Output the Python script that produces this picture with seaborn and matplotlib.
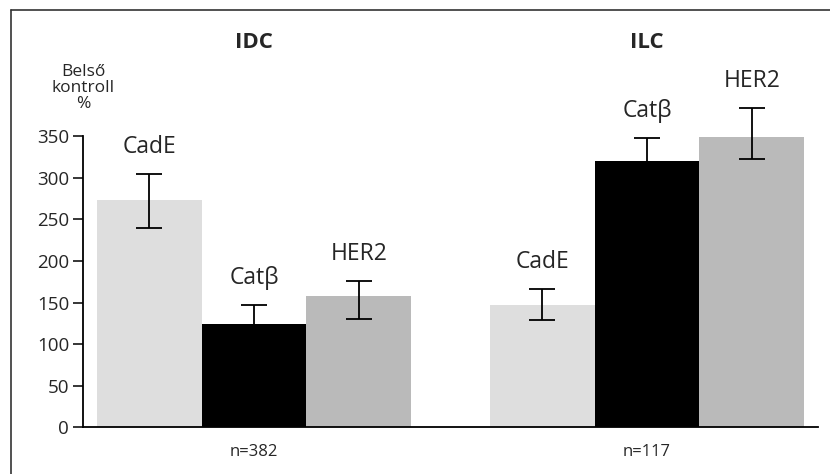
import numpy as np
import pandas as pd
import seaborn as sns
import matplotlib.pyplot as plt
from matplotlib.lines import Line2D

# adatok
groups = ["IDC", "ILC"]
group_n = ["n=382", "n=117"]
markers = ["CadE", "Catβ", "HER2"]
idc_values = [273, 124, 158]
ilc_values = [147, 320, 349]
idc_err_low = [33, 23, 28]
idc_err_high = [32, 23, 18]
ilc_err_low = [18, 28, 27]
ilc_err_high = [19, 28, 35]

colors = ["#dedede", "#000000", "#bababa"]

df = pd.DataFrame({
    "group": np.repeat(groups, len(markers)),
    "marker": markers * len(groups),
    "value": idc_values + ilc_values,
})

sns.set_style("white")
plt.rcParams["font.family"] = ["Open Sans", "DejaVu Sans"]

fig = plt.figure(figsize=(8.3, 4.74), dpi=100)
ax = fig.add_axes([83 / 830, 1 - 427.3 / 474, (818 - 83) / 830, (427.3 - 94.5) / 474])

sns.barplot(data=df, x="group", y="value", hue="marker", palette=colors,
            width=0.8, saturation=1, legend=False, linewidth=0, ax=ax)

ax.set_xlim(-0.435, 1.435)
ax.set_ylim(0, 400)

# hibasavok es feliratok
bw = 0.8 / len(markers)
err_low = [idc_err_low, ilc_err_low]
err_high = [idc_err_high, ilc_err_high]
vals = [idc_values, ilc_values]
for gi in range(len(groups)):
    for mi, m in enumerate(markers):
        x = gi + (mi - 1) * bw
        v = vals[gi][mi]
        ax.errorbar(x, v, yerr=[[err_low[gi][mi]], [err_high[gi][mi]]],
                    fmt="none", ecolor="black", elinewidth=1.3,
                    capsize=9.5, capthick=1.3, zorder=5)
        ax.text(x, v + err_high[gi][mi] + 18, m, ha="center", va="bottom",
                fontsize=16.5, clip_on=False)
    ax.text(gi, 463, groups[gi], ha="center", va="center", fontsize=16,
            fontweight="bold", clip_on=False)

ax.text(-0.435, 408, "Belső\nkontroll\n%", ha="center", va="center",
        fontsize=12.5, linespacing=1.0, clip_on=False)

ax.set_yticks(range(0, 351, 50))
ax.set_xticks(range(len(groups)))
ax.set_xticklabels(group_n, fontsize=12)
ax.tick_params(axis="y", length=7, width=1.3, labelsize=13.5, left=True, pad=3)
ax.tick_params(axis="x", length=0, pad=12)
ax.set_xlabel("")
ax.set_ylabel("")

sns.despine(ax=ax)
ax.spines["left"].set_bounds(0, 350)
for s in ["left", "bottom"]:
    ax.spines[s].set_linewidth(1.3)
    ax.spines[s].set_color("black")

# keret
fig.add_artist(Line2D([11 / 830, 11 / 830], [0, 1 - 10 / 474], color="#333333", lw=1.2))
fig.add_artist(Line2D([11 / 830, 1], [1 - 10 / 474, 1 - 10 / 474], color="#333333", lw=1.2))

fig.savefig("out.png", dpi=100)
